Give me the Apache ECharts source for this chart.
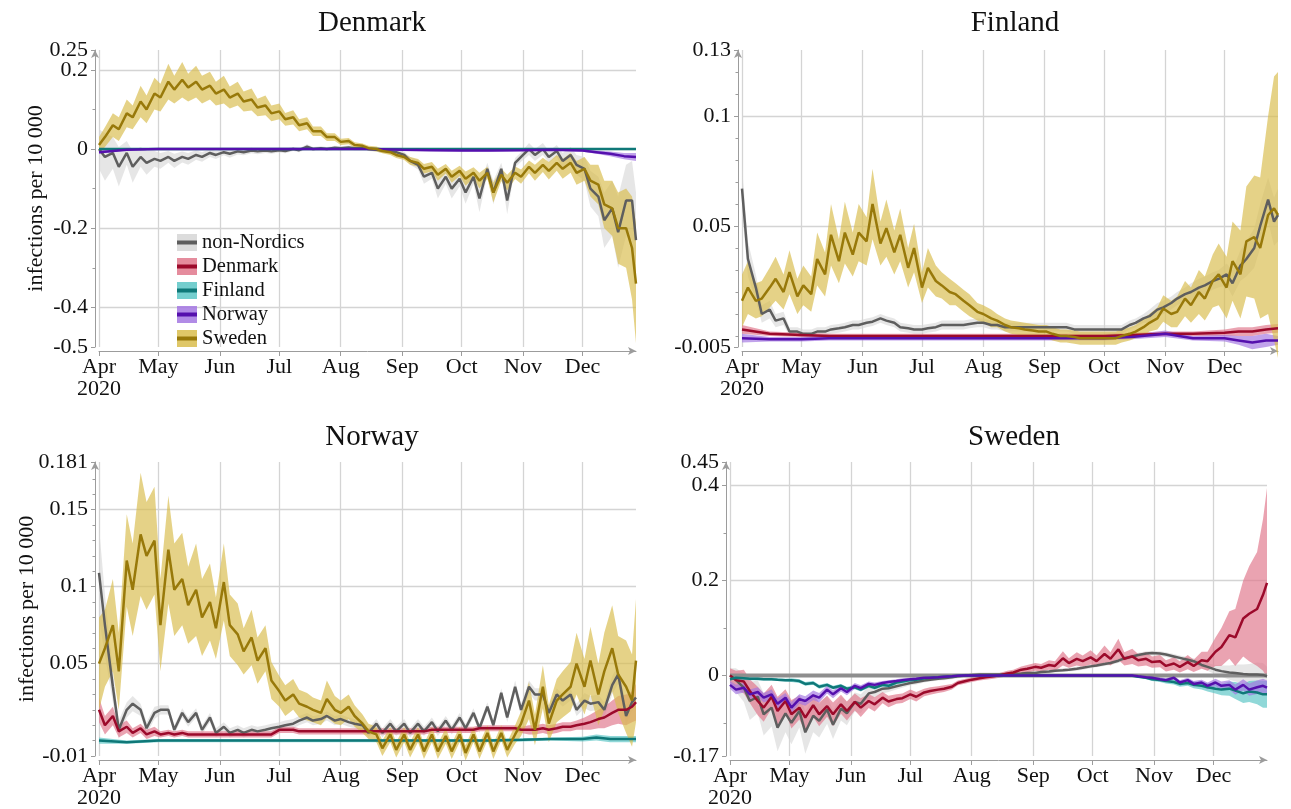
<!DOCTYPE html>
<html>
<head>
<meta charset="utf-8">
<script src="https://cdn.jsdelivr.net/npm/echarts@6/dist/echarts.min.js"></script>
<style>
  html, body { margin: 0; padding: 0; background: #fff; }
  #main { width: 1291px; height: 809px; }
</style>
</head>
<body>
<div id="main"></div>
<script>
// ---- data ---------------------------------------------------------------
// twice-weekly sample dates (2020) for the main curves
const dates = [
  '04-01','04-04','04-08','04-11','04-15','04-18','04-22','04-25','04-29',
  '05-02','05-06','05-09','05-13','05-16','05-20','05-23','05-27','05-30',
  '06-03','06-06','06-10','06-13','06-17','06-20','06-24','06-27',
  '07-01','07-04','07-08','07-11','07-15','07-18','07-22','07-25','07-29',
  '08-01','08-05','08-08','08-12','08-15','08-19','08-22','08-26','08-29',
  '09-02','09-05','09-09','09-12','09-16','09-19','09-23','09-26','09-30',
  '10-03','10-07','10-10','10-14','10-17','10-21','10-24','10-28','10-31',
  '11-04','11-07','11-11','11-14','11-18','11-21','11-25','11-28',
  '12-02','12-05','12-09','12-12','12-16','12-19','12-23','12-26','12-28'
];
// coarser dates for the almost flat curves
const coarseDates = ['04-01','04-15','05-01','05-15','06-01','06-15','07-01','07-15','08-01','08-15',
  '09-01','09-15','10-01','10-15','11-01','11-15','12-01','12-08','12-15','12-22','12-28'];
const ownZero = [0,0,0,0,0,0,0,0,0,0,0,0,0,0,0,0,0,0,0,0,0];

const monthStarts = ['04-01','05-01','06-01','07-01','08-01','09-01','10-01','11-01','12-01'];
const monthLabels = ['Apr\n2020','May','Jun','Jul','Aug','Sep','Oct','Nov','Dec'];

// Denmark panel
const dkSwe = [
  0.01, 0.03, 0.06, 0.05, 0.09, 0.08, 0.12, 0.10, 0.14,
  0.13, 0.17, 0.15, 0.175, 0.155, 0.17, 0.15, 0.16, 0.14,
  0.15, 0.13, 0.14, 0.12, 0.125, 0.105, 0.11, 0.09,
  0.095, 0.075, 0.08, 0.06, 0.065, 0.045, 0.045, 0.03, 0.03,
  0.018, 0.02, 0.01, 0.008, 0.002, 0.0, -0.005, -0.008, -0.015,
  -0.02, -0.03, -0.035, -0.05, -0.045, -0.065, -0.05, -0.07, -0.055,
  -0.075, -0.06, -0.08, -0.06, -0.11, -0.065, -0.085, -0.06, -0.07,
  -0.045, -0.06, -0.04, -0.055, -0.035, -0.05, -0.035, -0.06,
  -0.05, -0.08, -0.09, -0.14, -0.15, -0.2, -0.2, -0.25, -0.34
];
const dkSweBand = [
  0.02, 0.025, 0.03, 0.03, 0.035, 0.03, 0.04, 0.035, 0.04,
  0.035, 0.045, 0.035, 0.045, 0.035, 0.04, 0.035, 0.035, 0.03,
  0.035, 0.028, 0.03, 0.025, 0.028, 0.022, 0.025, 0.02,
  0.02, 0.016, 0.018, 0.015, 0.015, 0.012, 0.012, 0.01, 0.01,
  0.008, 0.008, 0.007, 0.006, 0.006, 0.006, 0.006, 0.007, 0.008,
  0.008, 0.01, 0.01, 0.012, 0.012, 0.015, 0.012, 0.015, 0.013,
  0.018, 0.014, 0.02, 0.015, 0.025, 0.016, 0.02, 0.016, 0.018,
  0.016, 0.02, 0.018, 0.022, 0.02, 0.025, 0.025, 0.03,
  0.03, 0.04, 0.05, 0.06, 0.07, 0.09, 0.1, 0.13, 0.15
];
const dkNon = [
  0.0, -0.02, -0.01, -0.045, -0.01, -0.045, -0.02, -0.035, -0.025,
  -0.03, -0.02, -0.03, -0.02, -0.025, -0.015, -0.02, -0.01, -0.015,
  -0.008, -0.012, -0.006, -0.008, -0.004, -0.006, -0.004, -0.006,
  -0.003, -0.005, 0.0, -0.003, 0.006, 0.0, 0.002, 0.0, 0.003,
  0.002, 0.004, 0.002, 0.002, 0.0, -0.002, -0.004, -0.006, -0.008,
  -0.015, -0.03, -0.04, -0.07, -0.06, -0.1, -0.07, -0.1, -0.075,
  -0.11, -0.07, -0.125, -0.05, -0.11, -0.05, -0.13, -0.035, -0.02,
  0.0, -0.015, 0.0, -0.02, -0.005, -0.03, -0.015, -0.04,
  -0.05, -0.1, -0.12, -0.18, -0.15, -0.21, -0.13, -0.13, -0.23
];
const dkNonBand = [
  0.05, 0.06, 0.04, 0.05, 0.03, 0.04, 0.025, 0.03, 0.02,
  0.02, 0.015, 0.018, 0.014, 0.015, 0.012, 0.012, 0.01, 0.01,
  0.008, 0.01, 0.008, 0.008, 0.007, 0.007, 0.006, 0.006,
  0.006, 0.006, 0.005, 0.005, 0.006, 0.005, 0.005, 0.005, 0.005,
  0.005, 0.005, 0.005, 0.005, 0.005, 0.005, 0.006, 0.006, 0.007,
  0.008, 0.01, 0.012, 0.018, 0.015, 0.025, 0.018, 0.025, 0.02,
  0.028, 0.018, 0.035, 0.015, 0.03, 0.015, 0.035, 0.012, 0.012,
  0.015, 0.015, 0.015, 0.015, 0.015, 0.02, 0.02, 0.025,
  0.03, 0.045, 0.05, 0.07, 0.07, 0.09, 0.09, 0.1, 0.12
];
const dkFin = [0,0,0,0,0,0,0,0,0,0,0,0,0,0,0,0,0,0,0,0,0];
const dkFinBand = [0.002,0.002,0.002,0.002,0.002,0.002,0.002,0.002,0.002,0.002,0.002,
  0.002,0.002,0.002,0.002,0.002,0.002,0.002,0.002,0.002,0.002];
const dkNor = [-0.008,-0.002,0,0,0,0,0,0,0,0,-0.002,-0.003,-0.004,-0.004,-0.003,-0.002,
  -0.004,-0.008,-0.012,-0.018,-0.02];
const dkNorBand = [0.004,0.002,0.002,0.002,0.002,0.002,0.002,0.002,0.002,0.002,0.002,
  0.002,0.002,0.002,0.002,0.002,0.003,0.004,0.006,0.008,0.01];

// Finland panel
const fiSwe = [
  0.016, 0.022, 0.016, 0.017, 0.022, 0.026, 0.02, 0.029, 0.018,
  0.023, 0.019, 0.035, 0.028, 0.046, 0.034, 0.047, 0.037, 0.047,
  0.043, 0.06, 0.042, 0.049, 0.038, 0.046, 0.031, 0.04,
  0.022, 0.031, 0.025, 0.023, 0.02, 0.019, 0.016, 0.014, 0.011,
  0.01, 0.008, 0.007, 0.005, 0.004, 0.0035, 0.003, 0.0025, 0.002,
  0.002, 0.001, 0.0, 0.0, -0.0005, -0.001, -0.001, -0.001, -0.001,
  -0.001, -0.001, 0.0, 0.001, 0.002, 0.004, 0.006, 0.008, 0.0125,
  0.01, 0.011, 0.017, 0.014, 0.02, 0.017, 0.025, 0.028,
  0.022, 0.034, 0.028, 0.043, 0.045, 0.04, 0.055, 0.058, 0.055
];
const fiSweBand = [
  0.012, 0.012, 0.008, 0.008, 0.009, 0.01, 0.008, 0.01, 0.008,
  0.009, 0.008, 0.012, 0.01, 0.014, 0.01, 0.014, 0.01, 0.013,
  0.011, 0.016, 0.01, 0.013, 0.01, 0.012, 0.009, 0.011,
  0.007, 0.009, 0.007, 0.006, 0.006, 0.005, 0.005, 0.005, 0.004,
  0.004, 0.004, 0.003, 0.003, 0.003, 0.003, 0.003, 0.003, 0.003,
  0.003, 0.003, 0.003, 0.003, 0.003, 0.003, 0.003, 0.003, 0.003,
  0.003, 0.003, 0.003, 0.003, 0.003, 0.004, 0.004, 0.005, 0.006,
  0.006, 0.007, 0.008, 0.008, 0.01, 0.01, 0.012, 0.014,
  0.014, 0.018, 0.02, 0.025, 0.028, 0.032, 0.045, 0.06, 0.065
];
const fiNon = [
  0.067, 0.035, 0.022, 0.01, 0.012, 0.007, 0.008, 0.002, 0.002,
  0.001, 0.001, 0.002, 0.002, 0.003, 0.0035, 0.004, 0.005, 0.005,
  0.006, 0.0065, 0.008, 0.007, 0.006, 0.004, 0.0035, 0.003,
  0.003, 0.0035, 0.004, 0.005, 0.005, 0.005, 0.005, 0.0055, 0.006,
  0.006, 0.005, 0.005, 0.004, 0.004, 0.004, 0.004, 0.004, 0.004,
  0.004, 0.004, 0.004, 0.004, 0.003, 0.003, 0.003, 0.003, 0.003,
  0.003, 0.003, 0.003, 0.005, 0.006, 0.008, 0.009, 0.012, 0.013,
  0.015, 0.017, 0.019, 0.02, 0.022, 0.023, 0.025, 0.026,
  0.028, 0.024, 0.032, 0.035, 0.04, 0.05, 0.062, 0.052, 0.055
];
const fiNonBand = [
  0.01, 0.008, 0.006, 0.004, 0.004, 0.003, 0.003, 0.002, 0.002,
  0.002, 0.002, 0.002, 0.002, 0.002, 0.002, 0.002, 0.002, 0.002,
  0.002, 0.002, 0.002, 0.002, 0.002, 0.002, 0.002, 0.002,
  0.002, 0.002, 0.002, 0.002, 0.002, 0.002, 0.002, 0.002, 0.002,
  0.002, 0.002, 0.002, 0.002, 0.002, 0.002, 0.002, 0.002, 0.002,
  0.002, 0.002, 0.002, 0.002, 0.002, 0.002, 0.002, 0.002, 0.002,
  0.002, 0.002, 0.002, 0.002, 0.002, 0.002, 0.003, 0.003, 0.003,
  0.003, 0.003, 0.003, 0.004, 0.004, 0.004, 0.004, 0.004,
  0.005, 0.006, 0.007, 0.008, 0.009, 0.01, 0.01, 0.011, 0.012
];
const fiDen = [0.003,0.001,0.0005,0,0,0,0,0,0,0,0,0,0,0.0005,0.001,0.001,0.0015,0.002,0.002,0.003,0.0035];
const fiDenBand = [0.002,0.001,0.001,0.001,0.001,0.001,0.001,0.001,0.001,0.001,0.001,
  0.001,0.001,0.001,0.001,0.001,0.0015,0.002,0.002,0.002,0.002];
const fiNor = [-0.001,-0.0015,-0.0015,-0.001,-0.001,-0.001,-0.001,-0.001,-0.001,-0.001,-0.001,
  -0.001,-0.001,-0.0005,0.001,-0.001,-0.001,-0.002,-0.003,-0.002,-0.002];
const fiNorBand = [0.002,0.001,0.001,0.001,0.001,0.001,0.001,0.001,0.001,0.001,0.001,
  0.001,0.001,0.001,0.0015,0.001,0.0015,0.002,0.003,0.003,0.002];

// Norway panel
const noSwe = [
  0.05, 0.06, 0.075, 0.045, 0.117, 0.098, 0.134, 0.12, 0.13,
  0.075, 0.124, 0.098, 0.105, 0.088, 0.098, 0.08, 0.09, 0.073,
  0.103, 0.075, 0.069, 0.058, 0.067, 0.052, 0.06, 0.039,
  0.032, 0.026, 0.03, 0.024, 0.022, 0.02, 0.018, 0.027, 0.02,
  0.018, 0.022, 0.016, 0.011, 0.006, 0.004, -0.005, 0.004, -0.006,
  0.004, -0.006, 0.004, -0.007, 0.004, -0.007, 0.003, -0.007, 0.004,
  -0.008, 0.004, -0.007, 0.005, -0.007, 0.005, -0.006, 0.004, 0.011,
  0.026, 0.007, 0.035, 0.011, 0.026, 0.03, 0.035, 0.05,
  0.035, 0.052, 0.03, 0.045, 0.06, 0.043, 0.035, 0.026, 0.052
];
const noSweBand = [
  0.03, 0.025, 0.03, 0.025, 0.03, 0.03, 0.04, 0.035, 0.035,
  0.03, 0.035, 0.03, 0.03, 0.025, 0.03, 0.025, 0.025, 0.02,
  0.025, 0.02, 0.02, 0.015, 0.018, 0.015, 0.015, 0.012,
  0.01, 0.01, 0.01, 0.009, 0.009, 0.008, 0.008, 0.012, 0.009,
  0.008, 0.008, 0.007, 0.006, 0.005, 0.005, 0.005, 0.005, 0.005,
  0.005, 0.005, 0.005, 0.005, 0.005, 0.005, 0.005, 0.005, 0.005,
  0.005, 0.005, 0.005, 0.005, 0.005, 0.005, 0.005, 0.006, 0.008,
  0.012, 0.01, 0.014, 0.012, 0.014, 0.015, 0.016, 0.02,
  0.018, 0.022, 0.02, 0.025, 0.028, 0.025, 0.03, 0.03, 0.04
];
const noNon = [
  0.109, 0.075, 0.035, 0.007, 0.02, 0.024, 0.02, 0.008, 0.018,
  0.02, 0.02, 0.007, 0.018, 0.012, 0.018, 0.007, 0.015, 0.005,
  0.009, 0.005, 0.007, 0.005, 0.007, 0.006, 0.007, 0.008,
  0.009, 0.01, 0.011, 0.013, 0.015, 0.013, 0.014, 0.016, 0.013,
  0.014, 0.012, 0.011, 0.01, 0.005, 0.011, 0.005, 0.011, 0.006,
  0.011, 0.005, 0.011, 0.006, 0.012, 0.006, 0.013, 0.007, 0.015,
  0.008, 0.018, 0.008, 0.022, 0.01, 0.031, 0.015, 0.035, 0.02,
  0.035, 0.03, 0.03, 0.018, 0.03, 0.026, 0.03, 0.02,
  0.026, 0.024, 0.025, 0.02, 0.036, 0.043, 0.016, 0.025, 0.028
];
const noNonBand = [
  0.03, 0.02, 0.01, 0.006, 0.005, 0.005, 0.004, 0.004, 0.004,
  0.003, 0.003, 0.003, 0.003, 0.003, 0.003, 0.003, 0.003, 0.003,
  0.003, 0.003, 0.003, 0.003, 0.003, 0.003, 0.003, 0.003,
  0.003, 0.003, 0.003, 0.003, 0.003, 0.003, 0.003, 0.003, 0.003,
  0.003, 0.003, 0.003, 0.003, 0.003, 0.003, 0.003, 0.003, 0.003,
  0.003, 0.003, 0.003, 0.003, 0.003, 0.003, 0.003, 0.003, 0.003,
  0.003, 0.003, 0.003, 0.003, 0.003, 0.003, 0.003, 0.004, 0.004,
  0.004, 0.004, 0.004, 0.004, 0.004, 0.004, 0.004, 0.004,
  0.005, 0.005, 0.005, 0.005, 0.006, 0.006, 0.006, 0.006, 0.006
];
const noDen = [
  0.02, 0.01, 0.016, 0.006, 0.009, 0.005, 0.008, 0.004, 0.006,
  0.004, 0.005, 0.004, 0.005, 0.004, 0.004, 0.004, 0.004, 0.004,
  0.004, 0.004, 0.004, 0.004, 0.004, 0.004, 0.004, 0.004,
  0.007, 0.007, 0.007, 0.006, 0.006, 0.006, 0.006, 0.006, 0.006,
  0.006, 0.006, 0.006, 0.006, 0.006, 0.006, 0.006, 0.006, 0.006,
  0.006, 0.006, 0.006, 0.006, 0.007, 0.007, 0.007, 0.007, 0.007,
  0.007, 0.007, 0.008, 0.008, 0.008, 0.008, 0.008, 0.008, 0.007,
  0.007, 0.007, 0.008, 0.007, 0.008, 0.009, 0.009, 0.01,
  0.011, 0.012, 0.014, 0.015, 0.018, 0.02, 0.02, 0.022, 0.025
];
const noDenBand = [
  0.008, 0.006, 0.006, 0.004, 0.004, 0.003, 0.003, 0.003, 0.003,
  0.002, 0.002, 0.002, 0.002, 0.002, 0.002, 0.002, 0.002, 0.002,
  0.002, 0.002, 0.002, 0.002, 0.002, 0.002, 0.002, 0.002,
  0.002, 0.002, 0.002, 0.002, 0.002, 0.002, 0.002, 0.002, 0.002,
  0.002, 0.002, 0.002, 0.002, 0.002, 0.002, 0.002, 0.002, 0.002,
  0.002, 0.002, 0.002, 0.002, 0.002, 0.002, 0.002, 0.002, 0.002,
  0.002, 0.002, 0.002, 0.002, 0.002, 0.002, 0.002, 0.002, 0.002,
  0.003, 0.003, 0.003, 0.003, 0.003, 0.003, 0.003, 0.003,
  0.004, 0.005, 0.006, 0.007, 0.008, 0.009, 0.01, 0.01, 0.012
];
const noFin = [0,-0.001,0,0,0,0,0,0,0,0,0,0,0,0,0.0005,0.001,0.001,0.002,0.001,0.001,0.001];
const noFinBand = [0.002,0.001,0.001,0.001,0.001,0.001,0.001,0.001,0.001,0.001,0.001,
  0.001,0.001,0.001,0.001,0.001,0.0015,0.002,0.002,0.002,0.002];

// Sweden panel
const swNon = [
  0.0, -0.01, -0.026, -0.054, -0.045, -0.082, -0.068, -0.11, -0.08,
  -0.1, -0.075, -0.12, -0.085, -0.096, -0.072, -0.104, -0.07, -0.08,
  -0.056, -0.06, -0.038, -0.035, -0.028, -0.027, -0.023, -0.02,
  -0.016, -0.014, -0.011, -0.009, -0.007, -0.006, -0.004, -0.002, 0.0,
  0.001, 0.002, 0.002, 0.002, 0.002, 0.003, 0.003, 0.004, 0.005,
  0.005, 0.007, 0.008, 0.01, 0.011, 0.012, 0.014, 0.016, 0.019,
  0.021, 0.024, 0.026, 0.031, 0.036, 0.04, 0.043, 0.046, 0.047,
  0.046, 0.044, 0.04, 0.037, 0.033, 0.03, 0.022, 0.018,
  0.012, 0.009, 0.006, 0.005, 0.003, 0.002, 0.002, 0.001, -0.002
];
const swNonBand = [
  0.015, 0.025, 0.03, 0.04, 0.035, 0.045, 0.04, 0.05, 0.04,
  0.045, 0.035, 0.045, 0.035, 0.035, 0.03, 0.03, 0.025, 0.025,
  0.02, 0.02, 0.015, 0.012, 0.01, 0.008, 0.007, 0.006,
  0.005, 0.005, 0.004, 0.004, 0.004, 0.004, 0.004, 0.004, 0.004,
  0.004, 0.004, 0.004, 0.004, 0.004, 0.004, 0.004, 0.004, 0.004,
  0.004, 0.004, 0.004, 0.004, 0.004, 0.004, 0.004, 0.004, 0.004,
  0.004, 0.004, 0.004, 0.005, 0.005, 0.005, 0.005, 0.005, 0.005,
  0.005, 0.005, 0.005, 0.005, 0.006, 0.006, 0.007, 0.008,
  0.01, 0.012, 0.015, 0.018, 0.02, 0.022, 0.025, 0.025, 0.02
];
const swDen = [
  0.0, -0.01, -0.013, -0.033, -0.054, -0.068, -0.045, -0.075, -0.054,
  -0.082, -0.068, -0.089, -0.063, -0.082, -0.065, -0.082, -0.061, -0.075,
  -0.056, -0.068, -0.054, -0.061, -0.047, -0.055, -0.05, -0.048,
  -0.04, -0.045, -0.036, -0.033, -0.03, -0.028, -0.024, -0.016, -0.012,
  -0.009, -0.006, -0.004, -0.002, 0.0, 0.004, 0.006, 0.012, 0.014,
  0.018, 0.016, 0.022, 0.02, 0.036, 0.026, 0.035, 0.03, 0.038,
  0.03, 0.045, 0.035, 0.055, 0.035, 0.04, 0.032, 0.035, 0.028,
  0.03, 0.02, 0.025, 0.018, 0.028, 0.02, 0.032, 0.03,
  0.05, 0.06, 0.085, 0.08, 0.12, 0.13, 0.14, 0.17, 0.195
];
const swDenBand = [
  0.015, 0.02, 0.025, 0.025, 0.03, 0.03, 0.025, 0.03, 0.025,
  0.03, 0.025, 0.03, 0.025, 0.025, 0.022, 0.025, 0.02, 0.02,
  0.018, 0.02, 0.015, 0.015, 0.012, 0.012, 0.01, 0.01,
  0.01, 0.01, 0.008, 0.008, 0.007, 0.007, 0.006, 0.005, 0.005,
  0.005, 0.005, 0.005, 0.005, 0.005, 0.006, 0.006, 0.007, 0.008,
  0.008, 0.008, 0.01, 0.01, 0.015, 0.01, 0.014, 0.012, 0.015,
  0.012, 0.018, 0.014, 0.022, 0.014, 0.016, 0.013, 0.014, 0.012,
  0.013, 0.012, 0.013, 0.012, 0.015, 0.013, 0.018, 0.02,
  0.03, 0.04, 0.05, 0.06, 0.08, 0.1, 0.12, 0.16, 0.2
];
const swFin = [
  -0.008, -0.005, -0.006, -0.007, -0.007, -0.008, -0.008, -0.009, -0.01,
  -0.01, -0.012, -0.018, -0.016, -0.024, -0.02, -0.026, -0.022, -0.028,
  -0.025, -0.03, -0.022, -0.026, -0.02, -0.022, -0.015, -0.013,
  -0.01, -0.009, -0.006, -0.005, -0.004, -0.003, -0.002, -0.001, 0.0,
  0.0, 0.0, 0.0, 0.0, 0.0, 0.0, 0.0, 0.0, 0.0,
  0.0, 0.0, 0.0, 0.0, 0.0, 0.0, 0.0, 0.0, 0.0,
  0.0, 0.0, 0.0, 0.0, 0.0, -0.001, -0.003, -0.005, -0.008,
  -0.01, -0.012, -0.014, -0.018, -0.016, -0.02, -0.022, -0.025,
  -0.028, -0.03, -0.028, -0.032, -0.038, -0.034, -0.036, -0.04, -0.04
];
const swFinBand = [
  0.003, 0.003, 0.003, 0.003, 0.003, 0.003, 0.003, 0.003, 0.003,
  0.004, 0.004, 0.004, 0.004, 0.004, 0.004, 0.004, 0.004, 0.004,
  0.004, 0.004, 0.004, 0.004, 0.004, 0.004, 0.004, 0.004,
  0.003, 0.003, 0.003, 0.003, 0.003, 0.003, 0.003, 0.003, 0.003,
  0.002, 0.002, 0.002, 0.002, 0.002, 0.002, 0.002, 0.002, 0.002,
  0.002, 0.002, 0.002, 0.002, 0.002, 0.002, 0.002, 0.002, 0.002,
  0.002, 0.002, 0.002, 0.002, 0.002, 0.002, 0.002, 0.003, 0.004,
  0.004, 0.005, 0.005, 0.006, 0.006, 0.007, 0.008, 0.009,
  0.01, 0.012, 0.015, 0.018, 0.02, 0.022, 0.025, 0.028, 0.028
];
const swNor = [
  -0.02, -0.03, -0.026, -0.04, -0.035, -0.047, -0.04, -0.06, -0.047,
  -0.068, -0.05, -0.054, -0.042, -0.047, -0.03, -0.04, -0.027, -0.035,
  -0.022, -0.027, -0.018, -0.02, -0.016, -0.014, -0.012, -0.01,
  -0.008, -0.007, -0.005, -0.005, -0.004, -0.003, -0.002, -0.001, 0.0,
  0.0, 0.0, 0.0, 0.0, 0.0, 0.0, 0.0, 0.0, 0.0,
  0.0, 0.0, 0.0, 0.0, 0.0, 0.0, 0.0, 0.0, 0.0,
  0.0, 0.0, 0.0, 0.0, 0.0, 0.0, -0.002, -0.004, -0.005,
  -0.008, -0.01, -0.005, -0.015, -0.01, -0.018, -0.015, -0.022,
  -0.015, -0.022, -0.02, -0.03, -0.02, -0.03, -0.025, -0.022, -0.026
];
const swNorBand = [
  0.008, 0.01, 0.01, 0.01, 0.01, 0.01, 0.01, 0.012, 0.01,
  0.012, 0.01, 0.01, 0.01, 0.01, 0.008, 0.008, 0.007, 0.007,
  0.006, 0.006, 0.005, 0.005, 0.004, 0.004, 0.004, 0.004,
  0.003, 0.003, 0.003, 0.003, 0.003, 0.003, 0.003, 0.003, 0.003,
  0.002, 0.002, 0.002, 0.002, 0.002, 0.002, 0.002, 0.002, 0.002,
  0.002, 0.002, 0.002, 0.002, 0.002, 0.002, 0.002, 0.002, 0.002,
  0.002, 0.002, 0.002, 0.002, 0.002, 0.002, 0.002, 0.003, 0.003,
  0.004, 0.004, 0.004, 0.005, 0.005, 0.006, 0.006, 0.007,
  0.008, 0.009, 0.01, 0.011, 0.012, 0.013, 0.014, 0.015, 0.015
];

// ---- styling / layout ---------------------------------------------------
const FONT = '"Liberation Serif", "Times New Roman", serif';
const AXIS = '#9c9c9c';
const GRIDLINE = '#d4d4d4';
const names = { non: 'non-Nordics', den: 'Denmark', fin: 'Finland', nor: 'Norway', swe: 'Sweden' };
const colors = {
  non: { line: '#5e5e5e', band: '#d6d6d6', alpha: 0.6 },
  den: { line: '#9c0a2b', band: '#e0788c', alpha: 0.68 },
  fin: { line: '#0f7878', band: '#5cc6c6', alpha: 0.68 },
  nor: { line: '#5510ad', band: '#a377e2', alpha: 0.68 },
  swe: { line: '#98790a', band: '#d9bd4e', alpha: 0.68 }
};

const panels = [
  {
    title: 'Denmark', titleX: 367, titleY: 4,
    grid: { left: 99, top: 50, width: 537, height: 297 },
    yMin: -0.5, yMax: 0.25,
    labels: [-0.5, -0.4, -0.2, 0, 0.2],
    minor: [-0.3, -0.1, 0.1],
    lines: [-0.4, -0.2, 0, 0.2],
    yName: true, ownLine: false,
    series: [
      { key: 'non', mean: dkNon, band: dkNonBand },
      { key: 'fin', mean: dkFin, band: dkFinBand, coarse: true },
      { key: 'nor', mean: dkNor, band: dkNorBand, coarse: true },
      { key: 'swe', mean: dkSwe, band: dkSweBand }
    ]
  },
  {
    title: 'Finland', titleX: 1010, titleY: 4,
    grid: { left: 742, top: 50, width: 536, height: 297 },
    yMin: -0.005, yMax: 0.13,
    labels: [-0.005, 0.05, 0.1],
    minor: [0, 0.01, 0.02, 0.03, 0.04, 0.06, 0.07, 0.08, 0.09, 0.11, 0.12],
    lines: [0.05, 0.1],
    yName: false, ownLine: false,
    series: [
      { key: 'non', mean: fiNon, band: fiNonBand },
      { key: 'den', mean: fiDen, band: fiDenBand, coarse: true },
      { key: 'nor', mean: fiNor, band: fiNorBand, coarse: true },
      { key: 'swe', mean: fiSwe, band: fiSweBand }
    ]
  },
  {
    title: 'Norway', titleX: 367, titleY: 418,
    grid: { left: 99, top: 462, width: 537, height: 298 },
    yMin: -0.01, yMax: 0.181,
    labels: [-0.01, 0.05, 0.1, 0.15],
    minor: [0, 0.01, 0.02, 0.03, 0.04, 0.06, 0.07, 0.08, 0.09, 0.11, 0.12, 0.13, 0.14, 0.16, 0.17],
    lines: [0.05, 0.1, 0.15],
    yName: true, ownLine: false,
    series: [
      { key: 'non', mean: noNon, band: noNonBand },
      { key: 'den', mean: noDen, band: noDenBand },
      { key: 'fin', mean: noFin, band: noFinBand, coarse: true },
      { key: 'swe', mean: noSwe, band: noSweBand }
    ]
  },
  {
    title: 'Sweden', titleX: 1009, titleY: 418,
    grid: { left: 730, top: 462, width: 537, height: 297 },
    yMin: -0.17, yMax: 0.45,
    labels: [-0.17, 0, 0.2, 0.4],
    minor: [-0.1, 0.1, 0.3],
    lines: [0, 0.2, 0.4],
    yName: false, ownLine: true,
    series: [
      { key: 'non', mean: swNon, band: swNonBand },
      { key: 'den', mean: swDen, band: swDenBand },
      { key: 'fin', mean: swFin, band: swFinBand },
      { key: 'nor', mean: swNor, band: swNorBand }
    ]
  }
];

// dates as local timestamps on a plain value axis
const ts = md => { const p = md.split('-'); return new Date(2020, +p[0] - 1, +p[1]).getTime(); };
const monthTicks = monthStarts.map(ts);
const fmt = v => String(parseFloat((+v).toFixed(3)));
const monthFmt = v => {
  const i = monthTicks.findIndex(m => Math.abs(m - v) < 3600e3);
  return i >= 0 ? monthLabels[i] : '';
};

// confidence band as one polygon, positioned by the axes (api.coord)
function bandSeries(pi, xs, lo, hi, color, alpha) {
  return {
    type: 'custom', xAxisIndex: pi, yAxisIndex: pi * 3, silent: true,
    data: xs.map((x, i) => [x, lo[i], hi[i]]),
    encode: { x: 0, y: [1, 2] },
    renderItem: (params, api) => {
      if (params.dataIndex !== 0) return null;
      const pts = [];
      for (let i = 0; i < xs.length; i++) pts.push(api.coord([xs[i], hi[i]]));
      for (let i = xs.length - 1; i >= 0; i--) pts.push(api.coord([xs[i], lo[i]]));
      return { type: 'polygon', shape: { points: pts }, style: { fill: color, opacity: alpha } };
    }
  };
}

const option = {
  animation: false,
  backgroundColor: '#fff',
  title: [], grid: [], xAxis: [], yAxis: [], series: [], legend: []
};

const labelText = { fontFamily: FONT, fontSize: 22, color: '#111' };

panels.forEach((p, pi) => {
  option.title.push({
    text: p.title, left: p.titleX, top: p.titleY, textAlign: 'center',
    textStyle: { fontFamily: FONT, fontSize: 29, fontWeight: 'normal', color: '#111' }
  });
  option.grid.push(Object.assign({}, p.grid));

  option.xAxis.push({
    gridIndex: pi, type: 'value', min: ts('04-01'), max: ts('12-28'), offset: 4,
    axisLine: { show: true, onZero: false, lineStyle: { color: AXIS }, symbol: ['none', 'arrow'], symbolSize: [6, 8] },
    axisTick: { show: true, length: 5, customValues: monthTicks, lineStyle: { color: AXIS } },
    axisLabel: Object.assign({
      show: true, customValues: monthTicks, margin: 5, formatter: monthFmt,
      showMinLabel: true, showMaxLabel: true, lineHeight: 22
    }, labelText),
    splitLine: { show: true, lineStyle: { color: GRIDLINE, width: 1.3 } }
  });

  const yb = { gridIndex: pi, type: 'value', position: 'left', min: p.yMin, max: p.yMax, offset: 4 };
  // labelled axis (axis line, major ticks, labels except the top one)
  option.yAxis.push(Object.assign({}, yb, {
    axisLine: { show: true, onZero: false, lineStyle: { color: AXIS }, symbol: ['none', 'arrow'], symbolSize: [6, 8] },
    axisTick: { show: true, length: 4, customValues: p.labels.concat([p.yMax]), lineStyle: { color: AXIS } },
    axisLabel: Object.assign({ show: true, customValues: p.labels, formatter: fmt, margin: 7,
      showMinLabel: true, showMaxLabel: true }, labelText),
    splitLine: { show: false },
    name: p.yName ? 'infections per 10 000' : '',
    nameLocation: 'middle', nameGap: 48,
    nameTextStyle: labelText
  }));
  // minor ticks + the axis-top label (kept separate so it is not hidden as overlapping)
  option.yAxis.push(Object.assign({}, yb, {
    axisLine: { show: false, onZero: false },
    axisTick: { show: true, length: 2.5, customValues: p.minor, lineStyle: { color: AXIS } },
    axisLabel: Object.assign({ show: true, customValues: [p.yMax], formatter: fmt, margin: 7,
      showMinLabel: true, showMaxLabel: true }, labelText),
    splitLine: { show: false }
  }));
  // grid lines
  option.yAxis.push(Object.assign({}, yb, {
    axisLine: { show: false, onZero: false },
    axisTick: { show: false, customValues: p.lines },
    axisLabel: { show: false },
    splitLine: { show: true, lineStyle: { color: GRIDLINE, width: 1.3 } }
  }));

  // own-country reference line (flat zero)
  if (p.ownLine) {
    option.series.push({
      type: 'line', xAxisIndex: pi, yAxisIndex: pi * 3, silent: true, symbol: 'none',
      data: coarseDates.map((d, i) => [ts(d), ownZero[i]]),
      lineStyle: { color: '#8e8e8e', width: 4 }
    });
  }

  p.series.forEach(s => {
    const xs = (s.coarse ? coarseDates : dates).map(ts);
    const c = colors[s.key];
    option.series.push(bandSeries(pi, xs,
      s.mean.map((v, i) => v - s.band[i]), s.mean.map((v, i) => v + s.band[i]), c.band, c.alpha));
    option.series.push({
      name: names[s.key], type: 'line', xAxisIndex: pi, yAxisIndex: pi * 3,
      symbol: 'none', silent: true,
      lineStyle: { color: c.line, width: 2.5 }, itemStyle: { color: c.line },
      data: s.mean.map((v, i) => [xs[i], v])
    });
  });
});

const legendKeys = ['non', 'den', 'fin', 'nor', 'swe'];
const legendBase = {
  left: 172, top: 227, orient: 'vertical', itemWidth: 20, itemGap: 3,
  icon: 'rect', selectedMode: false
};
option.legend.push(Object.assign({}, legendBase, {
  itemHeight: 17,
  data: legendKeys.map(k => ({ name: names[k], itemStyle: { color: colors[k].band, opacity: 0.85 } })),
  textStyle: { fontFamily: FONT, fontSize: 20.5, color: '#111', lineHeight: 20.3 }
}));
option.legend.push(Object.assign({}, legendBase, {
  itemHeight: 4,
  data: legendKeys.map(k => ({ name: names[k], itemStyle: { color: colors[k].line } })),
  textStyle: { fontFamily: FONT, fontSize: 20.5, color: 'rgba(0,0,0,0)', lineHeight: 20.3 }
}));

const chart = echarts.init(document.getElementById('main'));
chart.setOption(option);
</script>
</body>
</html>
